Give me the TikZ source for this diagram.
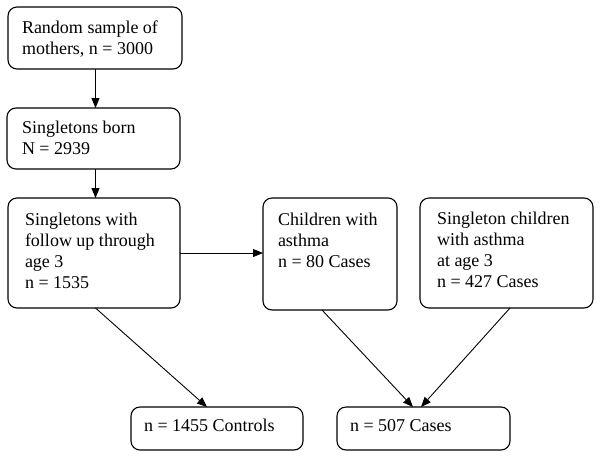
\documentclass[tikz,border=0pt]{standalone}
\usepackage{fontspec}
\setmainfont{Liberation Serif}
\usetikzlibrary{arrows.meta,calc}
\tikzset{
  box/.style={draw, line width=1.1pt, rounded corners=9pt, anchor=north west, inner sep=0pt, outer sep=0pt},
  txt/.style={anchor=base west, inner sep=0pt, outer sep=0pt, font=\fontsize{18}{21}\selectfont},
  arr/.style={line width=0.9pt, -{Triangle[length=10pt,width=8pt]}}
}
\begin{document}
\begin{tikzpicture}[x=1pt,y=-1pt]
\useasboundingbox (0,0) rectangle (601,458);
% boxes
\node[box, minimum width=174pt, minimum height=62pt] (b1) at (8,7) {};
\node[box, minimum width=173pt, minimum height=61pt] (b2) at (7,108) {};
\node[box, minimum width=172pt, minimum height=110pt] (b3) at (8,198) {};
\node[box, minimum width=134pt, minimum height=112pt] (b4) at (263,198) {};
\node[box, minimum width=173pt, minimum height=110pt] (b5) at (420,198) {};
\node[box, minimum width=172pt, minimum height=43pt] (b6) at (131,407) {};
\node[box, minimum width=173pt, minimum height=43pt] (b7) at (337,407) {};
% texts
\node[txt] (t1) at (22,33) {\begin{tabular}[t]{@{}l@{}}Random sample of\\mothers, n = 3000\end{tabular}};
\node[txt] (t2) at (22,133) {\begin{tabular}[t]{@{}l@{}}Singletons born\\N = 2939\end{tabular}};
\node[txt] (t3) at (25,225) {\begin{tabular}[t]{@{}l@{}}Singletons with\\follow up through\\age 3\\n = 1535\end{tabular}};
\node[txt] (t4) at (278,225) {\begin{tabular}[t]{@{}l@{}}Children with\\asthma\\n = 80 Cases\end{tabular}};
\node[txt] (t5) at (437,224) {\begin{tabular}[t]{@{}l@{}}Singleton children\\with asthma\\at age 3\\n = 427 Cases\end{tabular}};
\node[txt] (t6) at (144,431) {n = 1455 Controls};
\node[txt] (t7) at (350,431) {n = 507 Cases};
% connectors
\coordinate (cx) at ($(b1.south west)+(87.5,0)$);
\draw[arr] (cx) -- (b2.north -| cx);
\draw[arr] (b2.south -| cx) -- (b3.north -| cx);
\draw[arr] (b3.east) -- (b3.east -| b4.west);
\draw[arr] (b3.south -| cx) -- ($(b6.north)+(-10,0)$);
\draw[arr] ($(b4.south)+(-8,0)$) -- ($(b7.north)+(-10.5,0)$);
\draw[arr] ($(b5.south)+(3.5,0)$) -- ($(b7.north)+(-2.5,0)$);
\end{tikzpicture}
\end{document}
